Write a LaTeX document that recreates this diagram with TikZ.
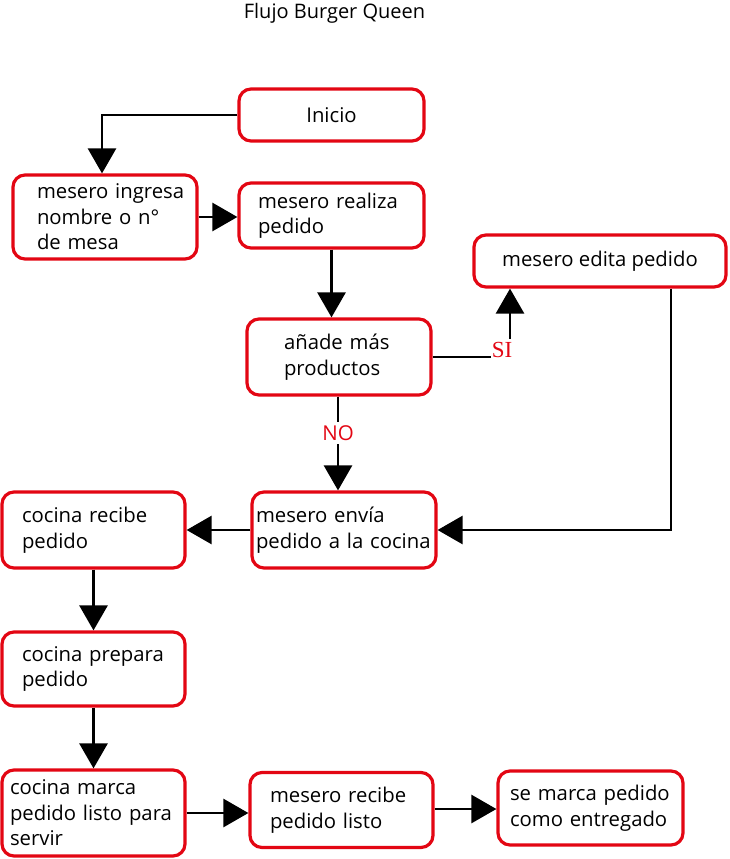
\documentclass[tikz,border=0pt]{standalone}
\usepackage{fontspec}
\setmainfont{Open Sans}
\newfontfamily\tagserif{Liberation Serif}
\usetikzlibrary{arrows.meta}
\definecolor{boxred}{RGB}{227,6,19}
\begin{document}
\begin{tikzpicture}[x=1pt,y=-1pt,
  box/.style={draw=boxred, line width=3.2pt, rounded corners=12pt, fill=white,
    font=\fontsize{20.3}{25.5}\selectfont, inner ysep=0pt},
  % width, height, left padding, text width
  bx/.style n args={4}{box, minimum width=#1pt, minimum height=#2pt,
    inner xsep=#3pt, text width=#4pt, align=left},
  cbx/.style 2 args={box, minimum width=#1pt, minimum height=#2pt, align=center},
  flow/.style={line width=2.7pt, -{Triangle[width=28pt,length=25pt]}},
  tag/.style={text=boxred, fill=white, inner sep=0pt, minimum size=22pt}
]
\useasboundingbox (0,0) rectangle (730,859);

\node (title) at (334.5,13) {\fontsize{20}{22}\selectfont Flujo Burger Queen};

\node[cbx={185}{52}] (inicio) at (331.5,115) {Inicio};
\node[bx={184}{84}{24}{136}] (ingresa) at (105,217) {\mbox{mesero ingresa}\\\mbox{nombre o n°}\\\mbox{de mesa}};
\node[bx={185}{65}{19}{147}] (realiza) at (331.5,215.5) {\mbox{mesero realiza}\\pedido};
\node[cbx={252}{52}] (edita) at (600,261) {mesero edita pedido};
\node[bx={184}{76}{37}{110}] (anade) at (339,357) {\mbox{añade más}\\productos};
\node[bx={184}{76}{4}{176}] (envia) at (344,530) {\mbox{mesero envía}\\\mbox{pedido a la cocina}};
\node[bx={183}{76}{20}{143}] (recibe) at (93.5,530) {\mbox{cocina recibe}\\pedido};
\node[bx={183}{74}{20}{143}] (prepara) at (93.5,669) {\mbox{cocina prepara}\\pedido};
\node[bx={183}{86}{8}{167}] (marca) at (93.5,813) {\mbox{cocina marca}\\\mbox{pedido listo para}\\servir};
\node[bx={183}{75}{20}{143}] (mrecibe) at (341.5,810) {\mbox{mesero recibe}\\\mbox{pedido listo}};
\node[bx={185}{74}{12}{161}] (entregado) at (590.5,808) {\mbox{se marca pedido}\\\mbox{como entregado}};

\draw[flow] (inicio.west) -| ([xshift=-3pt]ingresa.north);
\draw[flow] (ingresa.east) -- (ingresa.east -| realiza.west);
\draw[flow] (realiza.south) -- (realiza.south |- anade.north);
\draw[flow] (anade.east) -| node[tag, pos=0.5, xshift=-8pt, yshift=7pt]
  {\tagserif\fontsize{23}{24}\selectfont SI} ([xshift=-90pt]edita.south);
\draw[flow] ([xshift=-1pt]anade.south) -- node[tag, pos=0.39, minimum width=36pt]
  {\fontsize{20.5}{22}\selectfont NO} ([xshift=-1pt]anade.south |- envia.north);
\draw[flow] ([xshift=71pt]edita.south) |- (envia.east);
\draw[flow] (envia.west) -- (recibe.east);
\draw[flow] (recibe.south) -- (prepara.north);
\draw[flow] (prepara.south) -- (marca.north);
\draw[flow] (marca.east) -- (marca.east -| mrecibe.west);
\draw[flow] ([yshift=1pt]mrecibe.east) -- ([yshift=1pt]mrecibe.east -| entregado.west);
\end{tikzpicture}
\end{document}
